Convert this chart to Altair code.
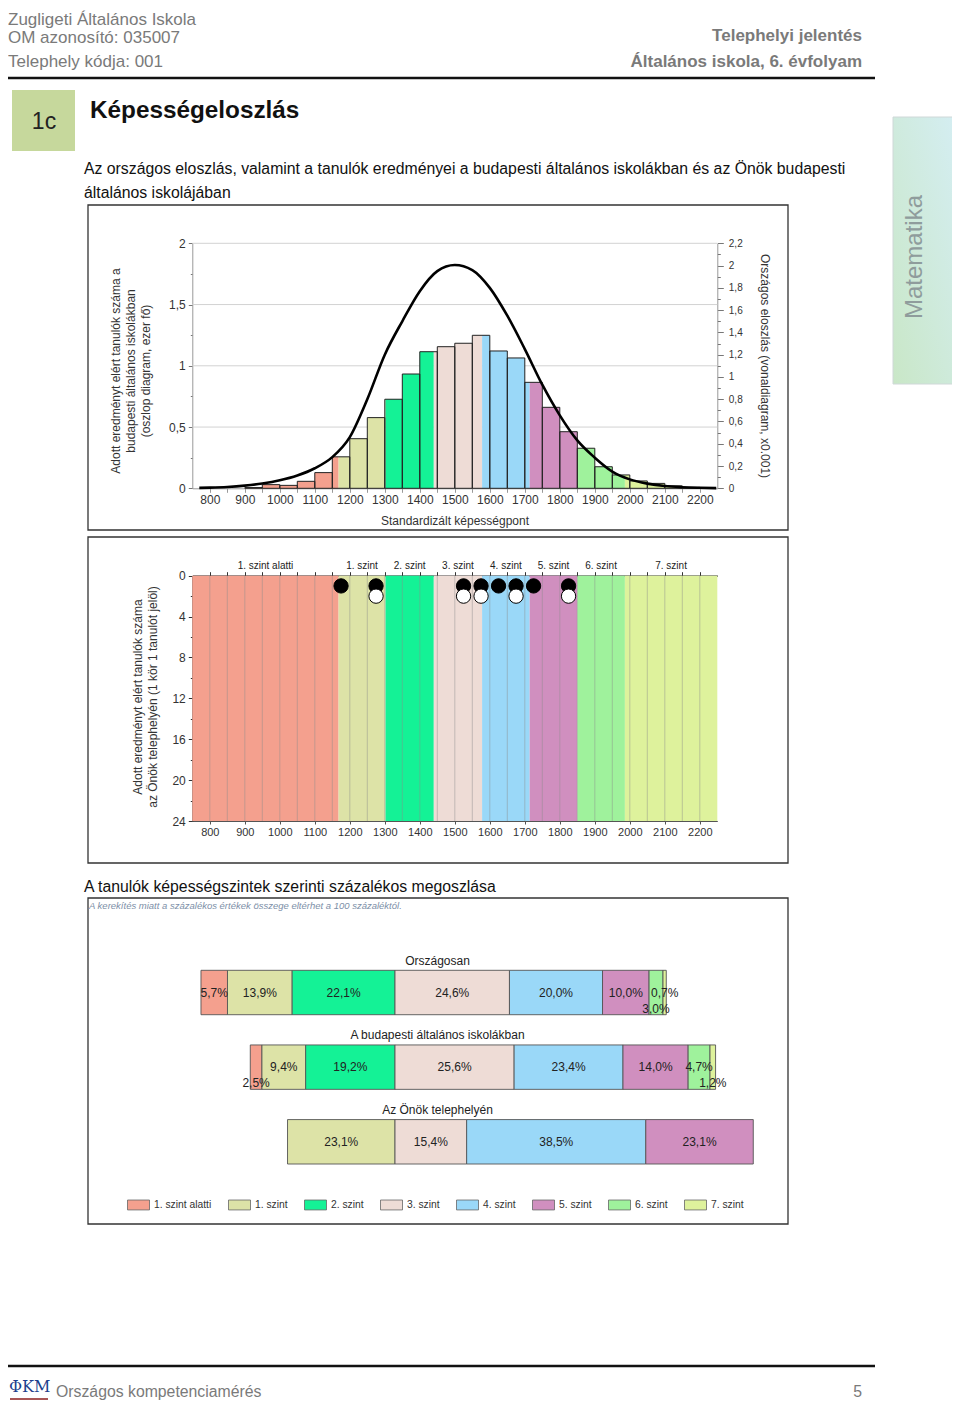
import altair as alt
import pandas as pd

# ------------------------------------------------------------------ data
level_names = ["1. szint alatti", "1. szint", "2. szint", "3. szint",
               "4. szint", "5. szint", "6. szint", "7. szint"]
level_colors = ["#F4A08E", "#DDE3A7", "#14F296", "#EEDCD6",
                "#9AD8F8", "#D08FBF", "#9FF29C", "#DEF29C"]
level_cuts = [1168, 1302, 1440, 1578, 1714, 1850, 1986]
score_domain = [750, 2250]

# Budapest histogram (thousand students), 50-point bins
hist_start = [900, 950, 1000, 1050, 1100, 1150, 1200, 1250, 1300, 1350, 1400,
              1450, 1500, 1550, 1600, 1650, 1700, 1750, 1800, 1850, 1900, 1950,
              2000, 2050, 2100, 2150]
hist_value = [0.006, 0.030, 0.024, 0.057, 0.128, 0.257, 0.405, 0.577, 0.727,
              0.933, 1.115, 1.156, 1.184, 1.249, 1.121, 1.064, 0.865, 0.661,
              0.462, 0.327, 0.176, 0.109, 0.060, 0.040, 0.020, 0.008]
bin_width = 50

# national distribution curve (x0.001)
curve_score = [770, 800, 850, 900, 950, 1000, 1050, 1100, 1150, 1200, 1250,
               1300, 1350, 1400, 1450, 1500, 1550, 1600, 1650, 1700, 1750,
               1800, 1850, 1900, 1950, 2000, 2050, 2100, 2150, 2200, 2247]
curve_value = [0.004, 0.006, 0.012, 0.024, 0.043, 0.072, 0.115, 0.18, 0.28,
               0.46, 0.80, 1.20, 1.50, 1.77, 1.95, 2.005, 1.96, 1.80, 1.55,
               1.25, 0.93, 0.655, 0.43, 0.275, 0.15, 0.08, 0.042, 0.02, 0.01,
               0.005, 0.002]

# students of the site (bin centre of each student's score)
student_score = [1175, 1275, 1275, 1525, 1525, 1575, 1575, 1625, 1675, 1675,
                 1725, 1825, 1825]

# level shares (%)
share_groups = ["Országosan", "A budapesti általános iskolákban",
                "Az Önök telephelyén"]
share_national = [5.7, 13.9, 22.1, 24.6, 20.0, 10.0, 3.0, 0.7]
share_budapest = [2.5, 9.4, 19.2, 25.6, 23.4, 14.0, 4.7, 1.2]
share_site = [0.0, 23.1, 0.0, 15.4, 38.5, 23.1, 0.0, 0.0]

# axis tick values
hist_y_ticks = [0, 0.5, 1, 1.5, 2]
hist_y_minor = [0.25, 0.75, 1.25, 1.75]
curve_y_ticks = [0, 0.2, 0.4, 0.6, 0.8, 1, 1.2, 1.4, 1.6, 1.8, 2, 2.2]
curve_y_minor = [0.1, 0.3, 0.5, 0.7, 0.9, 1.1, 1.3, 1.5, 1.7, 1.9, 2.1]
score_ticks_50 = list(range(800, 2201, 50))
score_ticks_100 = list(range(800, 2201, 100))
student_ticks = [0, 4, 8, 12, 16, 20, 24]
student_minor = [2, 6, 10, 14, 18, 22]

# ------------------------------------------------------------------ layout helpers
W, H = 944, 1393
SANS = "Liberation Sans, Arial, Helvetica, sans-serif"
NARROW = "Liberation Sans Narrow, Arial Narrow, Liberation Sans, sans-serif"


def px(v):
    return v - 8


def py(v):
    return v - 8


def one():
    return pd.DataFrame({"a": [0]})


def text_layer(s, x, y, size, color="#333", align="left", weight="normal",
               font=SANS, angle=None, italic=False):
    props = dict(align=align, baseline="middle", fontSize=size, color=color,
                 font=font, fontWeight=weight)
    if angle is not None:
        props["angle"] = angle
    if italic:
        props["fontStyle"] = "italic"
    return alt.Chart(pd.DataFrame({"t": [s]})).mark_text(**props).encode(
        x=alt.value(px(x)), y=alt.value(py(y)), text="t:N")


def frame_layer(x1, y1, x2, y2, stroke="#333", sw=1.3):
    return alt.Chart(one()).mark_rect(fillOpacity=0, stroke=stroke, strokeWidth=sw).encode(
        x=alt.value(px(x1)), x2=alt.value(px(x2)),
        y=alt.value(py(y1)), y2=alt.value(py(y2)))


def fill_layer(x1, y1, x2, y2, fill):
    return alt.Chart(one()).mark_rect(fill=fill).encode(
        x=alt.value(px(x1)), x2=alt.value(px(x2)),
        y=alt.value(py(y1)), y2=alt.value(py(y2)))


def hrule(x1, x2, y, color="#111", sw=2.5):
    return alt.Chart(one()).mark_rule(color=color, strokeWidth=sw).encode(
        x=alt.value(px(x1)), x2=alt.value(px(x2)), y=alt.value(py(y)))


def minor_axis(orient, offset, values, color="#777", size=2):
    return alt.Axis(orient=orient, offset=offset, values=values, labels=False,
                    domain=False, tickSize=size, tickColor=color)


level_scale = alt.Scale(domain=level_names, range=level_colors)
comma_expr = "replace('' + datum.value, '.', ',')"

L = []

# ------------------------------------------------------------------ page header
L.append(text_layer("Zugligeti Általános Iskola", 8, 20, 17, "#7a7a7a", font=NARROW))
L.append(text_layer("OM azonosító: 035007", 8, 38, 17, "#7a7a7a", font=NARROW))
L.append(text_layer("Telephely kódja: 001", 8, 62, 17, "#7a7a7a", font=NARROW))
L.append(text_layer("Telephelyi jelentés", 862, 36, 17, "#7a7a7a", "right", "bold", NARROW))
L.append(text_layer("Általános iskola, 6. évfolyam", 862, 62, 17, "#7a7a7a", "right", "bold", NARROW))
L.append(hrule(8, 875, 78))
L.append(fill_layer(12, 90, 75, 151, "#C6D89C"))
L.append(text_layer("1c", 44, 122, 23, "#222", "center", font=NARROW))
L.append(text_layer("Képességeloszlás", 90, 111, 24.3, "#111", weight="bold", font=NARROW))
L.append(text_layer("Az országos eloszlás, valamint a tanulók eredményei a budapesti "
                    "általános iskolákban és az Önök budapesti", 84, 169, 15.8, "#111", font=NARROW))
L.append(text_layer("általános iskolájában", 84, 193, 15.8, "#111", font=NARROW))

# side tab
tab_fill = alt.Gradient(gradient="linear",
                        stops=[alt.GradientStop(color="#D5EEF4", offset=0),
                               alt.GradientStop(color="#C9E7C7", offset=1)],
                        x1=1, y1=0, x2=0, y2=1)
L.append(alt.Chart(one()).mark_rect(fill=tab_fill, stroke="#cfd8d8", strokeWidth=1).encode(
    x=alt.value(px(893)), x2=alt.value(px(962)), y=alt.value(py(117)), y2=alt.value(py(384))))
L.append(text_layer("Matematika", 915, 257, 24, "#8f9c9c", "center", font=SANS, angle=270))

# ------------------------------------------------------------------ frames
L.append(frame_layer(88, 205, 788, 530))
L.append(frame_layer(88, 537, 788, 863))
L.append(text_layer("A tanulók képességszintek szerinti százalékos megoszlása",
                    84, 887, 15.8, "#111", font=NARROW))
L.append(frame_layer(88, 898, 788, 1224))

# ------------------------------------------------------------------ chart 1: histogram + curve
edges = [score_domain[0]] + level_cuts + [score_domain[1]]
seg_rows, bin_rows = [], []
for s, v in zip(hist_start, hist_value):
    e = s + bin_width
    bin_rows.append(dict(x0=s, x1=e, v=v, base=0))
    for i in range(len(level_names)):
        a, b = max(s, edges[i]), min(e, edges[i + 1])
        if b > a:
            seg_rows.append(dict(x0=a, x1=b, v=v, base=0, level=level_names[i]))
seg_df = pd.DataFrame(seg_rows)
bin_df = pd.DataFrame(bin_rows)

x1s = alt.Scale(domain=score_domain, range=[px(192.3), px(717.3)], nice=False, zero=False)
yl1 = alt.Scale(domain=[0, 2], range=[py(488.3), py(243.3)], nice=False, zero=False)
yr1 = alt.Scale(domain=[0, 2.2], range=[py(488.3), py(243.3)], nice=False, zero=False)

L.append(alt.Chart(pd.DataFrame({"g": hist_y_ticks[1:]})).mark_rule(
    color="#d2d2d2", strokeWidth=1).encode(
    x=alt.value(px(192.3)), x2=alt.value(px(717.3)),
    y=alt.Y("g:Q", scale=yl1, title=None,
            axis=minor_axis("left", -px(192.3), hist_y_minor))))

L.append(alt.Chart(seg_df).mark_rect().encode(
    x=alt.X("x0:Q", scale=x1s, title=None,
            axis=alt.Axis(orient="bottom", offset=py(488.3) - H, values=score_ticks_50,
                          format="d",
                          labelExpr="datum.value % 100 == 0 ? datum.label : ''",
                          labelFontSize=12, tickSize=4, labelPadding=2,
                          domainColor="#999", tickColor="#999")),
    x2="x1:Q",
    y=alt.Y("v:Q", scale=yl1, title=None,
            axis=alt.Axis(orient="left", offset=-px(192.3), values=hist_y_ticks,
                          labelExpr=comma_expr, labelFontSize=12, tickSize=4,
                          labelPadding=3, domainColor="#999", tickColor="#777")),
    y2="base:Q",
    color=alt.Color("level:N", scale=level_scale, legend=None)))

L.append(alt.Chart(bin_df).mark_rect(fillOpacity=0, stroke="#222", strokeWidth=1).encode(
    x=alt.X("x0:Q", scale=x1s, axis=None), x2="x1:Q",
    y=alt.Y("v:Q", scale=yl1, axis=None), y2="base:Q"))

curve_df = pd.DataFrame({"s": curve_score, "c": curve_value})
L.append(alt.Chart(curve_df).mark_line(color="#000", strokeWidth=2.6,
                                       interpolate="monotone").encode(
    x=alt.X("s:Q", scale=x1s, axis=None),
    y=alt.Y("c:Q", scale=yr1, title=None,
            axis=alt.Axis(orient="right", offset=px(717.3) - W, values=curve_y_ticks,
                          labelExpr=comma_expr, labelFontSize=10, tickSize=6,
                          labelPadding=5, domainColor="#999", tickColor="#777"))))

L.append(alt.Chart(pd.DataFrame({"m": curve_y_minor})).mark_tick(opacity=0).encode(
    y=alt.Y("m:Q", scale=yr1, title=None,
            axis=minor_axis("right", px(717.3) - W, curve_y_minor, size=3))))

L.append(text_layer("Adott eredményt elért tanulók száma a", 116, 371, 12, "#333", "center", angle=270))
L.append(text_layer("budapesti általános iskolákban", 131, 371, 12, "#333", "center", angle=270))
L.append(text_layer("(oszlop diagram, ezer fő)", 146, 371, 12, "#333", "center", angle=270))
L.append(text_layer("Országos eloszlás (vonaldiagram, x0.001)", 765, 366, 12, "#333", "center", angle=90))
L.append(text_layer("Standardizált képességpont", 455, 521, 12, "#333", "center"))

# ------------------------------------------------------------------ chart 2: students of the site
y2s = alt.Scale(domain=[0, 24], range=[py(575.7), py(821)], nice=False, zero=False)
band_df = pd.DataFrame({"x0": edges[:-1], "x1": edges[1:], "level": level_names,
                        "lo": [0] * 8, "hi": [24] * 8,
                        "mid": [(a + b) / 2 for a, b in zip(edges[:-1], edges[1:])]})

L.append(alt.Chart(band_df).mark_rect().encode(
    x=alt.X("x0:Q", scale=x1s, title=None,
            axis=alt.Axis(orient="bottom", offset=py(821) - H, values=score_ticks_100,
                          format="d", labelFontSize=11, tickSize=3, labelPadding=2,
                          domainColor="#555", tickColor="#555")),
    x2="x1:Q",
    y=alt.Y("lo:Q", scale=y2s, title=None,
            axis=alt.Axis(orient="left", offset=-px(192.3), values=student_ticks,
                          labelFontSize=12, tickSize=4, labelPadding=3,
                          domainColor="#333", tickColor="#333")),
    y2="hi:Q",
    color=alt.Color("level:N", scale=level_scale, legend=None)))

L.append(alt.Chart(pd.DataFrame({"g": score_ticks_50})).mark_rule(
    color="#8c8c8c", strokeWidth=1, opacity=0.45).encode(
    x=alt.X("g:Q", scale=x1s, title=None,
            axis=alt.Axis(orient="top", offset=-py(575.7), values=score_ticks_50,
                          labels=False, tickSize=4, domainColor="#111",
                          tickColor="#333", domainWidth=1.2)),
    y=alt.value(py(575.7)), y2=alt.value(py(821))))

L.append(alt.Chart(band_df).mark_text(fontSize=10, font=SANS, color="#222",
                                      baseline="middle").encode(
    x=alt.X("mid:Q", scale=x1s, axis=None),
    y=alt.value(py(566)), text="level:N"))

cnt, st_rows = {}, []
for s in student_score:
    cnt[s] = cnt.get(s, 0) + 1
    st_rows.append(dict(score=s, row=cnt[s], kind="first" if cnt[s] == 1 else "second"))
st_df = pd.DataFrame(st_rows)
L.append(alt.Chart(st_df).mark_circle(size=205, stroke="#000", strokeWidth=1,
                                      opacity=1).encode(
    x=alt.X("score:Q", scale=x1s, axis=None),
    y=alt.Y("row:Q", scale=y2s, title=None,
            axis=minor_axis("left", -px(192.3), student_minor, color="#333")),
    fill=alt.Fill("kind:N", scale=alt.Scale(domain=["first", "second"],
                                            range=["#000000", "#ffffff"]),
                  legend=None)))

L.append(text_layer("Adott eredményt elért tanulók száma", 138, 697, 12, "#333", "center", angle=270))
L.append(text_layer("az Önök telephelyén (1 kör 1 tanulót jelöl)", 153, 697, 12, "#333", "center", angle=270))

# ------------------------------------------------------------------ chart 3: shares
sh_rows = []
for g, vals in zip(share_groups, [share_national, share_budapest, share_site]):
    start = -sum(vals[:3])
    small = 0
    for i, v in enumerate(vals):
        if v <= 0:
            continue
        pos = "mid"
        if v < 5:
            pos = "low" if small % 2 == 0 else "mid"
            small += 1
        sh_rows.append(dict(group=g, level=level_names[i], x0=start, x1=start + v,
                            xm=start + v / 2, pos=pos,
                            label=f"{v:.1f}".replace(".", ",") + "%"))
        start += v
sh_df = pd.DataFrame(sh_rows)

ppp = 4.653
x3s = alt.Scale(domain=[-60, 80], range=[px(395 - 60 * ppp), px(395 + 80 * ppp)],
                nice=False, zero=False)
y3s = alt.Scale(type="band", domain=share_groups, range=[py(970.3), py(1164)],
                paddingInner=0.405, paddingOuter=0)

L.append(alt.Chart(sh_df).mark_rect(stroke="#555", strokeWidth=0.9).encode(
    x=alt.X("x0:Q", scale=x3s, axis=None), x2="x1:Q",
    y=alt.Y("group:N", scale=y3s, axis=None),
    color=alt.Color("level:N", scale=level_scale,
                    legend=alt.Legend(orient="none", legendX=px(127), legendY=py(1193),
                                      direction="horizontal", title=None,
                                      symbolType="M-1,-0.45H1V0.45H-1Z", symbolSize=484,
                                      symbolStrokeColor="#666", symbolStrokeWidth=0.8,
                                      labelFont=SANS, labelFontSize=10.3, labelColor="#333",
                                      labelOffset=4, columnPadding=14, padding=0))))

for pos, dy in [("mid", 0), ("low", 16)]:
    L.append(alt.Chart(sh_df).transform_filter(alt.datum.pos == pos).mark_text(
        fontSize=12, font=SANS, color="#222", baseline="middle", dy=dy).encode(
        x=alt.X("xm:Q", scale=x3s, axis=None),
        y=alt.Y("group:N", scale=y3s, axis=None, bandPosition=0.5),
        text="label:N"))

L.append(alt.Chart(pd.DataFrame({"group": share_groups})).mark_text(
    fontSize=12, font=SANS, color="#222", baseline="middle", dy=-32).encode(
    x=alt.value(px(437.5)),
    y=alt.Y("group:N", scale=y3s, axis=None, bandPosition=0.5),
    text="group:N"))

L.append(text_layer("A kerekítés miatt a százalékos értékek összege eltérhet a 100 százaléktól.",
                    89, 906, 9.5, "#7D8FA8", italic=True))

# ------------------------------------------------------------------ footer
L.append(hrule(8, 875, 1366))
L.append(text_layer("ΦKM", 9, 1387, 16, "#1E3F8E", font="DejaVu Serif, serif"))
L.append(alt.Chart(one()).mark_rule(color="#8B1E1E", strokeWidth=1.5).encode(
    x=alt.value(px(10)), x2=alt.value(px(48)), y=alt.value(py(1399))))
L.append(text_layer("Országos kompetenciamérés", 56, 1392, 15.8, "#7a7a7a", font=NARROW))
L.append(text_layer("5", 862, 1392, 15.8, "#7a7a7a", "right", font=NARROW))

chart = alt.layer(*L).resolve_scale(
    x="independent", y="independent", color="independent", fill="independent"
).properties(
    width=W, height=H, padding=0,
    autosize=alt.AutoSizeParams(type="none"), background="white"
).configure_view(strokeWidth=0).configure_axis(
    labelFont=SANS, labelColor="#333", grid=False, labelOverlap=False,
    labelFlush=False, labelBound=False, zindex=1
)

chart.save("out.html", embed_options={"renderer": "svg", "actions": False})
